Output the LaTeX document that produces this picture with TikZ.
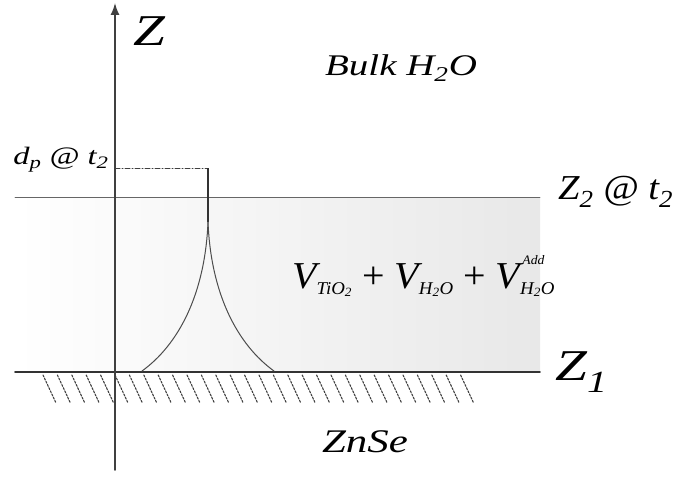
\documentclass[tikz,border=0pt]{standalone}
\usepackage{fontspec}
\setmainfont{Liberation Serif}
\usetikzlibrary{arrows.meta}
\newcommand\wide[2][1.3]{\scalebox{#1}[1]{#2}}
% chỉ số dưới / trên nhỏ cho công thức
\newcommand\sbt[1]{\raisebox{-6pt}{\fontsize{18}{18}\selectfont #1}}
\newcommand\sbsp[2]{\makebox[0pt][l]{\raisebox{24pt}{\fontsize{13}{13}\selectfont\,#2}}\sbt{#1}}
\tikzset{
  lbl/.style={inner sep=0pt, font=\itshape\fontsize{#1}{#1}\selectfont},
  hatch/.style={black!75, line width=1.1pt, dash pattern=on 2pt off 1.5pt},
  profile/.style={black!70, line width=1pt}
}
\begin{document}
\begin{tikzpicture}[x=1pt,y=-1pt,line join=round,line cap=round]
\useasboundingbox (0,0) rectangle (685,484);

				% Các điểm chính
				\coordinate (A0) at (115,470);  % chân trục
				\coordinate (A1) at (115,3);    % đỉnh trục
				\coordinate (Ltl) at (15,197);  % mặt Z2
				\coordinate (Ltr) at (540,197);
				\coordinate (Lbl) at (15,372);  % mặt Z1
				\coordinate (Lbr) at (540,372);
				\coordinate (Dp) at (115,168);  % mức d_p trên trục
				\coordinate (P) at (208,168);   % đỉnh profile
				\coordinate (Pd) at (208,222);
				\coordinate (Bl) at (142,371);  % chân trái
				\coordinate (Br) at (274,371);  % chân phải

				% Vùng tô giữa Z1 và Z2
				\shade[left color=white, right color=black!9] (Ltl) rectangle (Lbr);

				% Các mặt phân cách
				\draw[black!60, line width=.8pt] (Ltl) -- (Ltr);
				\draw[black!80, line width=1.8pt] (Lbl) -- (Lbr);

				% Gạch chéo của đế ZnSe
				\foreach \i in {0,...,29}
					\draw[hatch] ({43+14.4*\i},375) -- ++(13,28);

				% Trục Z
				\draw[-{Latex[length=12pt,width=9pt]}, black!75, line width=1.5pt] (A0) -- (A1);

				% Đường nét đứt d_p và profile
				\draw[black!75, line width=1pt, dash pattern=on 5pt off 2pt on 1pt off 2pt] (Dp) -- (P);
				\draw[black!80, line width=2.5pt, line cap=butt] (P) -- (Pd);
				\draw[profile] (Pd) .. controls (205,295) and (178,345) .. (Bl);
				\draw[profile] (Pd) .. controls (211,295) and (238,345) .. (Br);

				% Nhãn
				\node[lbl=44] (zlab) at (149,31) {\wide{Z}};
				\node[lbl=30] (bulk) at (401,68) {\wide{Bulk H\textsubscript{2}O}};
				\node[lbl=25] (dplab) at (61,160) {\wide{d\textsubscript{p} @ t\textsubscript{2}}};
				\node[lbl=35, anchor=west] (z2lab) at (558,192) {\wide[1.1]{Z\textsubscript{2} @ t\textsubscript{2}}};
				\node[lbl=38, anchor=base west] (vlab) at (292,288) {\wide[1.05]{V\sbt{TiO\textsubscript{2}} \textup{+} V\sbt{H\textsubscript{2}O} \textup{+} V\sbsp{H\textsubscript{2}O}{Add}}};
				\node[lbl=44, anchor=west] (z1lab) at (555,372) {\wide{Z\textsubscript{1}}};
				\node[lbl=33] (znse) at (365,442) {\wide{ZnSe}};

\end{tikzpicture}
\end{document}
